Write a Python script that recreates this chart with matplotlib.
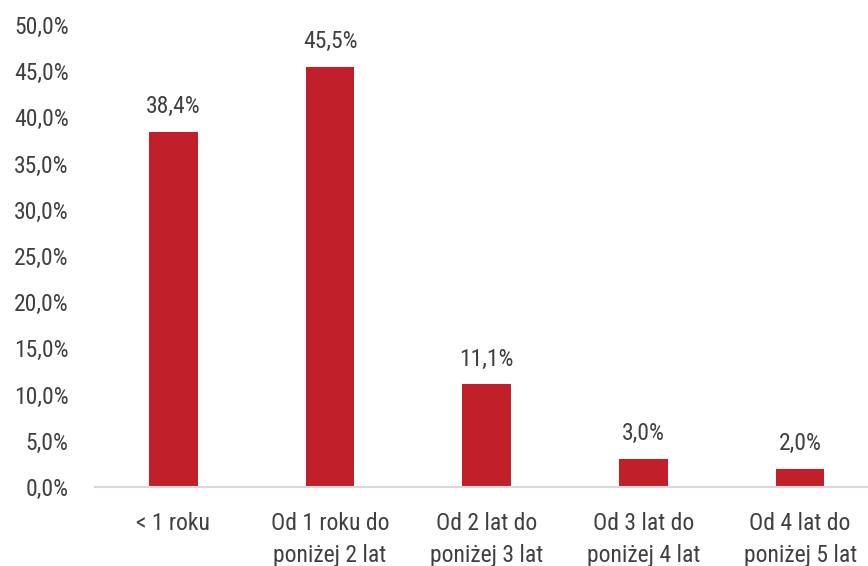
import matplotlib
matplotlib.use("Agg")
import matplotlib.pyplot as plt
from matplotlib import font_manager

categories = ["< 1 roku", "Od 1 roku do\nponiżej 2 lat", "Od 2 lat do\nponiżej 3 lat",
              "Od 3 lat do\nponiżej 4 lat", "Od 4 lat do\nponiżej 5 lat"]
values = [38.4, 45.5, 11.1, 3.0, 2.0]
yticks = [0, 5, 10, 15, 20, 25, 30, 35, 40, 45, 50]

# pick a narrow font if we have one
names = {f.name for f in font_manager.fontManager.ttflist}
family = "DejaVu Sans"
for cand in ["Liberation Sans Narrow", "Roboto Condensed", "Open Sans Condensed", "Roboto", "Lato"]:
    if cand in names:
        family = cand
        break
plt.rcParams['font.family'] = [family, 'DejaVu Sans']

text_color = "#404040"
bar_color = "#C1202A"
fs = 17

fig = plt.figure(figsize=[8.68, 5.66], dpi=100)
ax = fig.add_axes([95 / 868, 79 / 566, (878.5 - 95) / 868, (487 - 25) / 566])

x = list(range(len(values)))
ax.bar(x, values, width=0.31, color=bar_color, zorder=2)

for xi, v in zip(x, values):
    ax.annotate(f"{v:.1f}%".replace(".", ","), (xi, v), xytext=(0, 10),
                textcoords="offset points", ha="center", va="bottom",
                fontsize=fs, color=text_color)

ax.set_xlim(-0.5, 4.5)
ax.set_ylim(0, 50)
ax.set_yticks(yticks)
ax.set_yticklabels([f"{t:.1f}%".replace(".", ",") for t in yticks], fontsize=fs, color=text_color)
ax.set_xticks(x)
ax.set_xticklabels(categories, fontsize=fs, color=text_color, linespacing=1.5)
ax.tick_params(axis="both", length=0)
ax.tick_params(axis="x", pad=18)
ax.tick_params(axis="y", pad=19)

# Clean Graph
for s in ["top", "right", "left"]:
    ax.spines[s].set_visible(False)
ax.spines["bottom"].set_color("#d9d9d9")
ax.spines["bottom"].set_linewidth(1.5)

plt.savefig("out.png", dpi=100)
